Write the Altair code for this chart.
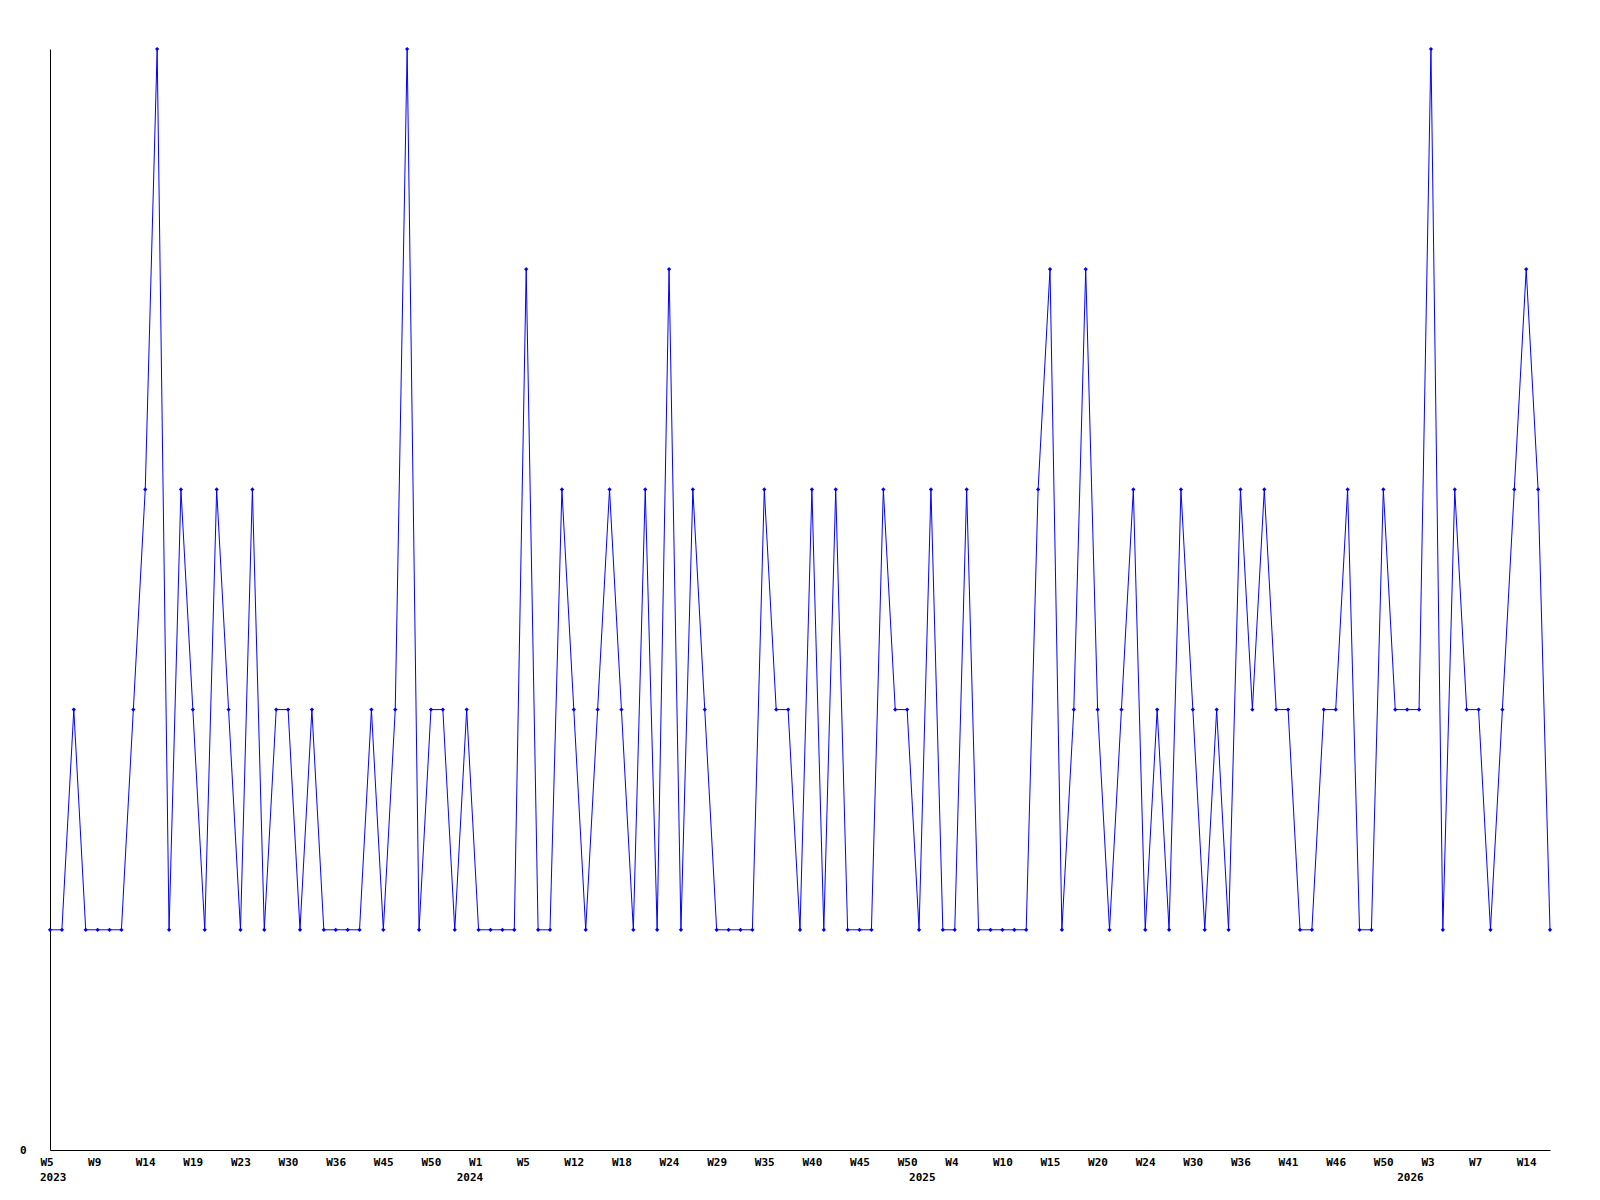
import altair as alt
import pandas as pd

# Value of each point (ordinal sequence of weeks, 127 points)
values = [1, 1, 2, 1, 1, 1, 1, 2, 3, 5,
          1, 3, 2, 1, 3, 2, 1, 3, 1, 2,
          2, 1, 2, 1, 1, 1, 1, 2, 1, 2,
          5, 1, 2, 2, 1, 2, 1, 1, 1, 1,
          4, 1, 1, 3, 2, 1, 2, 3, 2, 1,
          3, 1, 4, 1, 3, 2, 1, 1, 1, 1,
          3, 2, 2, 1, 3, 1, 3, 1, 1, 1,
          3, 2, 2, 1, 3, 1, 1, 3, 1, 1,
          1, 1, 1, 3, 4, 1, 2, 4, 2, 1,
          2, 3, 1, 2, 1, 3, 2, 1, 2, 1,
          3, 2, 3, 2, 2, 1, 1, 2, 2, 3,
          1, 1, 3, 2, 2, 2, 5, 1, 3, 2,
          2, 1, 2, 3, 4, 3, 1]

# Week tick labels (one every 4th point)
week_labels = ["W5", "W9", "W14", "W19", "W23", "W30", "W36", "W45", "W50",
               "W1", "W5", "W12", "W18", "W24", "W29", "W35", "W40", "W45", "W50",
               "W4", "W10", "W15", "W20", "W24", "W30", "W36", "W41", "W46", "W50",
               "W3", "W7", "W14"]
week_label_index = [4 * i for i in range(len(week_labels))]

# Year labels and the point they start at
years = ["2023", "2024", "2025", "2026"]
year_index = [0, 35, 73, 114]

df = pd.DataFrame({"idx": list(range(len(values))), "value": values})
ydf = pd.DataFrame({"idx": year_index, "year": years})

FONT = "DejaVu Sans Mono"
W, H = 1500, 1101

label_map = "{" + ",".join(f"'{i}':'{l}'" for i, l in zip(week_label_index, week_labels)) + "}"

x_enc = alt.X(
    "idx:Q",
    scale=alt.Scale(domain=[0, len(values) - 1], nice=False, zero=False),
    axis=alt.Axis(
        title=None, values=week_label_index, labelExpr=f"{label_map}[''+datum.value]",
        ticks=False, grid=False, domain=True, domainColor="black", domainWidth=1,
        labelFont=FONT, labelFontWeight="bold", labelFontSize=11, labelColor="black",
        labelAlign="left", labelOffset=-10, labelBaseline="top", labelPadding=6,
        labelOverlap=False, labelFlush=False, labelBound=False,
    ),
)
y_enc = alt.Y(
    "value:Q",
    scale=alt.Scale(domain=[0, 5], nice=False, zero=True),
    axis=alt.Axis(
        title=None, values=[0], format="d", ticks=False, grid=False, domain=True,
        domainColor="black", domainWidth=1,
        labelFont=FONT, labelFontWeight="bold", labelFontSize=11, labelColor="black",
        labelPadding=24,
    ),
)

line = alt.Chart(df).mark_line(color="#0000ff", strokeWidth=1).encode(x=x_enc, y=y_enc)
pts = alt.Chart(df).mark_point(shape="diamond", filled=True, color="#0000ff", size=18, opacity=1).encode(
    x="idx:Q", y="value:Q"
)
year_text = alt.Chart(ydf).mark_text(
    font=FONT, fontWeight="bold", fontSize=11, color="black", align="left",
    baseline="alphabetic", dx=-10,
).encode(x="idx:Q", y=alt.value(H + 31), text="year:N")

chart = (
    alt.layer(line, pts, year_text)
    .properties(
        width=W, height=H,
        background="white",
        autosize=alt.AutoSizeParams(type="none"),
        padding={"left": 42, "top": 41, "right": 40, "bottom": 50},
    )
    .configure_view(strokeWidth=0, stroke="transparent")
)

chart.save("out.html", embed_options={"renderer": "svg", "actions": False})
